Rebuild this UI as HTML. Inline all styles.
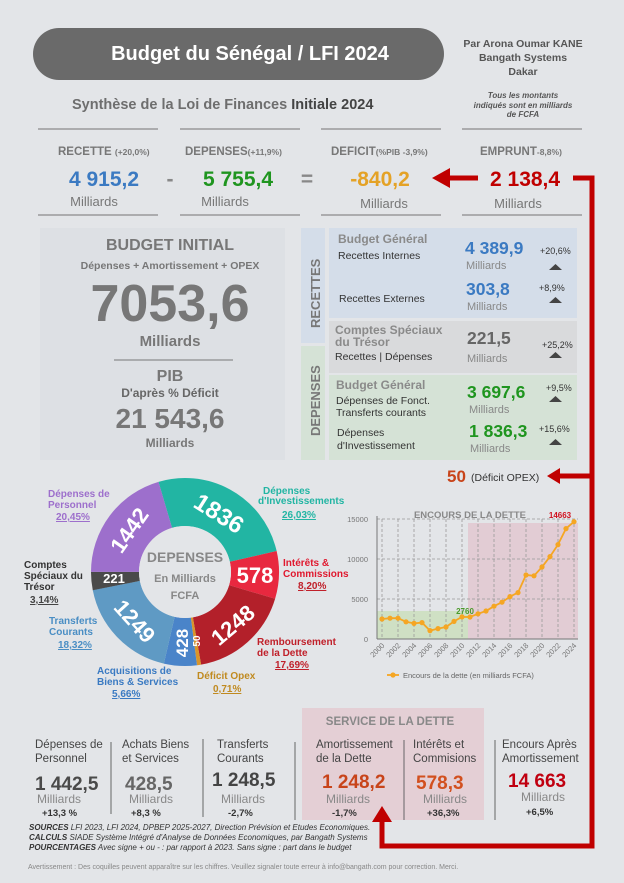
<!DOCTYPE html>
<html><head><meta charset="utf-8"><style>
html,body{margin:0;padding:0;background:#e3e5e8;}
svg{display:block;font-family:"Liberation Sans",sans-serif;}
</style></head><body>
<svg width="624" height="883" viewBox="0 0 624 883" xmlns="http://www.w3.org/2000/svg">
<rect width="624" height="883" fill="#e3e5e8"/>
<!-- header -->
<rect x="33" y="28" width="411" height="52" rx="26" fill="#6a6a6a"/>
<text x="250" y="60" text-anchor="middle" fill="#fff" font-size="20" font-weight="bold">Budget du Sénégal / LFI 2024</text>
<g fill="#555" font-size="10.5" font-weight="bold" text-anchor="middle">
<text x="523" y="47">Par Arona Oumar KANE</text>
<text x="523" y="61">Bangath Systems</text>
<text x="523" y="75">Dakar</text></g>
<g fill="#555" font-size="8" font-weight="bold" font-style="italic" text-anchor="middle">
<text x="523" y="98">Tous les montants</text>
<text x="523" y="108">indiqués sont en milliards</text>
<text x="523" y="117">de FCFA</text></g>
<text x="72" y="109" font-size="14.5" font-weight="bold" fill="#6e6e6e">Synthèse de la Loi de Finances <tspan fill="#444">Initiale 2024</tspan></text>
<!-- top row -->
<g stroke="#9a9a9a" stroke-width="1.5">
<line x1="38" y1="129" x2="158" y2="129"/><line x1="180" y1="129" x2="300" y2="129"/><line x1="321" y1="129" x2="441" y2="129"/><line x1="462" y1="129" x2="582" y2="129"/>
<line x1="38" y1="215" x2="158" y2="215"/><line x1="180" y1="215" x2="300" y2="215"/><line x1="321" y1="215" x2="441" y2="215"/><line x1="462" y1="215" x2="582" y2="215"/></g>
<g font-weight="bold" fill="#777" font-size="11.5">
<text x="58" y="155">RECETTE <tspan font-size="8.5">(+20,0%)</tspan></text>
<text x="185" y="155">DEPENSES<tspan font-size="8.5">(+11,9%)</tspan></text>
<text x="331" y="155">DEFICIT<tspan font-size="8.5">(%PIB -3,9%)</tspan></text>
<text x="480" y="155">EMPRUNT<tspan font-size="8.5">-8,8%)</tspan></text></g>
<g font-weight="bold" font-size="21" text-anchor="middle">
<text x="104" y="186" fill="#3b7ac2">4 915,2</text>
<text x="170" y="186" fill="#888">-</text>
<text x="238" y="186" fill="#1f951f">5 755,4</text>
<text x="307" y="186" fill="#888">=</text>
<text x="380" y="186" fill="#e4a226">-840,2</text></g>
<text x="490" y="186" font-weight="bold" font-size="21" fill="#c00000">2 138,4</text>
<g font-size="13" fill="#777" text-anchor="middle">
<text x="94" y="206">Milliards</text><text x="225" y="206">Milliards</text><text x="384" y="208">Milliards</text><text x="518" y="208">Milliards</text></g>
<!-- budget initial -->
<rect x="40" y="228" width="245" height="232" fill="#dde0e4"/>
<g text-anchor="middle" fill="#777" font-weight="bold">
<text x="170" y="250" font-size="16">BUDGET INITIAL</text>
<text x="170" y="269" font-size="10.5">Dépenses + Amortissement + OPEX</text>
<text x="170" y="321" font-size="52">7053,6</text>
<text x="170" y="346" font-size="15">Milliards</text>
<text x="170" y="381" font-size="16">PIB</text>
<text x="170" y="397" font-size="12" fill="#666">D'après % Déficit</text>
<text x="170" y="428" font-size="28">21 543,6</text>
<text x="170" y="447" font-size="12">Milliards</text></g>
<line x1="114" y1="360" x2="233" y2="360" stroke="#777" stroke-width="1"/>
<!-- right panel -->
<rect x="301" y="228" width="24" height="115" fill="#d4dde9"/>
<rect x="301" y="346" width="24" height="114" fill="#d5e2d6"/>
<rect x="329" y="228" width="248" height="90" fill="#d4dde9"/>
<rect x="329" y="321" width="248" height="52" fill="#d9dadc"/>
<rect x="329" y="375" width="248" height="85" fill="#d5e2d6"/>
<text transform="translate(320,328) rotate(-90)" font-size="13" font-weight="bold" fill="#777">RECETTES</text>
<text transform="translate(320,436) rotate(-90)" font-size="13" font-weight="bold" fill="#777">DEPENSES</text>
<g font-size="12" font-weight="bold" fill="#8a8a8a">
<text x="338" y="243">Budget Général</text>
<text x="335" y="334">Comptes Spéciaux</text>
<text x="335" y="346">du Trésor</text>
<text x="336" y="389">Budget Général</text></g>
<g font-size="10.5" fill="#333">
<text x="338" y="259">Recettes Internes</text>
<text x="339" y="302">Recettes Externes</text>
<text x="335" y="360">Recettes | Dépenses</text>
<text x="336" y="404">Dépenses de Fonct.</text>
<text x="336" y="416">Transferts courants</text>
<text x="337" y="436">Dépenses</text>
<text x="337" y="449">d'Investissement</text></g>
<g font-size="17.5" font-weight="bold">
<text x="465" y="254" fill="#3b7ac2">4 389,9</text>
<text x="466" y="295" fill="#3b7ac2">303,8</text>
<text x="467" y="344" fill="#666">221,5</text>
<text x="467" y="398" fill="#1f951f">3 697,6</text>
<text x="469" y="437" fill="#1f951f">1 836,3</text></g>
<g font-size="11" fill="#888">
<text x="466" y="269">Milliards</text><text x="467" y="310">Milliards</text><text x="467" y="362">Milliards</text><text x="469" y="413">Milliards</text><text x="470" y="452">Milliards</text></g>
<g font-size="9" fill="#333">
<text x="540" y="254">+20,6%</text><text x="539" y="291">+8,9%</text><text x="542" y="348">+25,2%</text><text x="546" y="391">+9,5%</text><text x="539" y="432">+15,6%</text></g>
<g fill="#444">
<polygon points="549,270 562,270 555.5,264"/><polygon points="549,303 562,303 555.5,297"/><polygon points="549,358 562,358 555.5,352"/><polygon points="549,402 562,402 555.5,396"/><polygon points="549,445 562,445 555.5,439"/></g>
<text x="447" y="482" font-size="17" font-weight="bold" fill="#c8441a">50</text>
<text x="471" y="481" font-size="10.5" fill="#333">(Déficit OPEX)</text>
<!-- donut -->
<g fill="none" stroke-width="48">
<circle cx="185" cy="572" r="70" stroke="#22b5a3" stroke-dasharray="114.24 500" transform="rotate(-106.4 185 572)"/>
<circle cx="185" cy="572" r="70" stroke="#e8283f" stroke-dasharray="35.99 500" transform="rotate(-12.9 185 572)"/>
<circle cx="185" cy="572" r="70" stroke="#b3202a" stroke-dasharray="77.65 500" transform="rotate(16.56 185 572)"/>
<circle cx="185" cy="572" r="70" stroke="#d9952a" stroke-dasharray="3.12 500" transform="rotate(80.12 185 572)"/>
<circle cx="185" cy="572" r="70" stroke="#4a84c9" stroke-dasharray="24.85 500" transform="rotate(82.67 185 572)"/>
<circle cx="185" cy="572" r="70" stroke="#5f9ac4" stroke-dasharray="80.41 500" transform="rotate(103.01 185 572)"/>
<circle cx="185" cy="572" r="70" stroke="#4a4a4a" stroke-dasharray="13.78 500" transform="rotate(168.83 185 572)"/>
<circle cx="185" cy="572" r="70" stroke="#9d6fcc" stroke-dasharray="89.76 500" transform="rotate(180.11 185 572)"/></g>
<circle cx="185" cy="572" r="46" fill="#e3e5e8"/>
<g fill="#fff" font-weight="bold" text-anchor="middle">
<text x="220" y="522" font-size="24" transform="rotate(32 220 512)">1836</text>
<text x="255" y="583" font-size="22">578</text>
<text x="232" y="633" font-size="22" transform="rotate(-40 232 624)">1248</text>
<text x="196" y="645" font-size="10" transform="rotate(-90 196 641)">50</text>
<text x="182" y="649" font-size="17" transform="rotate(-90 182 643)">428</text>
<text x="135" y="629" font-size="22" transform="rotate(48 135 621)">1249</text>
<text x="114" y="583" font-size="13">221</text>
<text x="129" y="538" font-size="22" transform="rotate(-55 129 530)">1442</text></g>
<g text-anchor="middle" font-weight="bold" fill="#888">
<text x="185" y="562" font-size="14">DEPENSES</text>
<text x="185" y="582" font-size="11">En Milliards</text>
<text x="185" y="599" font-size="11">FCFA</text></g>
<g font-size="10" font-weight="bold">
<text x="48" y="497" fill="#9d6fcc">Dépenses de</text><text x="48" y="508" fill="#9d6fcc">Personnel</text>
<text x="56" y="520" fill="#9d6fcc" text-decoration="underline">20,45%</text>
<text x="263" y="494" fill="#22b5a3">Dépenses</text><text x="258" y="504" fill="#22b5a3">d'Investissements</text>
<text x="282" y="518" fill="#22b5a3" text-decoration="underline">26,03%</text>
<text x="283" y="566" fill="#e0182e">Intérêts &amp;</text><text x="283" y="577" fill="#e0182e">Commissions</text>
<text x="298" y="589" fill="#c0202a" text-decoration="underline">8,20%</text>
<text x="24" y="568" fill="#333">Comptes</text><text x="24" y="579" fill="#333">Spéciaux du</text><text x="24" y="590" fill="#333">Trésor</text>
<text x="30" y="603" fill="#444" text-decoration="underline">3,14%</text>
<text x="49" y="624" fill="#4a8ec4">Transferts</text><text x="49" y="635" fill="#4a8ec4">Courants</text>
<text x="58" y="648" fill="#4a8ec4" text-decoration="underline">18,32%</text>
<text x="257" y="645" fill="#c0202a">Remboursement</text><text x="257" y="656" fill="#c0202a">de la Dette</text>
<text x="275" y="668" fill="#c0202a" text-decoration="underline">17,69%</text>
<text x="97" y="674" fill="#3a7ac2">Acquisitions de</text><text x="97" y="685" fill="#3a7ac2">Biens &amp; Services</text>
<text x="112" y="697" fill="#3a7ac2" text-decoration="underline">5,66%</text>
<text x="197" y="679" fill="#c08a20">Déficit Opex</text>
<text x="213" y="692" fill="#c08a20" text-decoration="underline">0,71%</text></g>
<!-- line chart -->
<rect x="377" y="611" width="91" height="28" fill="#cfe0c4"/>
<rect x="468" y="523" width="110" height="116" fill="#e2c8d0" opacity="0.85"/>
<g stroke="#999" stroke-width="0.8" stroke-dasharray="3,2">
<line x1="377" y1="519" x2="578" y2="519"/><line x1="377" y1="559" x2="578" y2="559"/><line x1="377" y1="599" x2="578" y2="599"/>
<line x1="382" y1="519" x2="382" y2="639"/><line x1="398" y1="519" x2="398" y2="639"/><line x1="414" y1="519" x2="414" y2="639"/><line x1="430" y1="519" x2="430" y2="639"/><line x1="446" y1="519" x2="446" y2="639"/><line x1="462" y1="519" x2="462" y2="639"/><line x1="478" y1="519" x2="478" y2="639"/><line x1="494" y1="519" x2="494" y2="639"/><line x1="510" y1="519" x2="510" y2="639"/><line x1="526" y1="519" x2="526" y2="639"/><line x1="542" y1="519" x2="542" y2="639"/><line x1="558" y1="519" x2="558" y2="639"/><line x1="574" y1="519" x2="574" y2="639"/></g>
<line x1="377" y1="516" x2="377" y2="639" stroke="#777" stroke-width="1"/>
<line x1="377" y1="639" x2="578" y2="639" stroke="#777" stroke-width="1"/>
<g font-size="7.5" fill="#777" text-anchor="end">
<text x="368" y="522">15000</text><text x="368" y="562">10000</text><text x="368" y="602">5000</text><text x="368" y="642">0</text></g>
<text x="470" y="518" text-anchor="middle" font-size="9.5" font-weight="bold" fill="#888">ENCOURS DE LA DETTE</text>
<text x="560" y="518" text-anchor="middle" font-size="8" font-weight="bold" fill="#d0101e">14663</text>
<text x="465" y="614" text-anchor="middle" font-size="8" font-weight="bold" fill="#4a9a2a">2760</text>
<polyline fill="none" stroke="#f5a623" stroke-width="1.8" points="382,619 390,618.2 398,618.2 406,621.8 414,623.4 422,622.6 430,630.6 438,628.6 446,627 454,621.4 462,616.9 470,617 478,613.8 486,611 494,606.2 502,602.2 510,596.6 518,592.6 526,575 534,575.8 542,567 550,556.6 558,544.6 566,528.6 574,521.7"/>
<g fill="#f5a623">
<circle cx="382" cy="619" r="2.6"/><circle cx="390" cy="618.2" r="2.6"/><circle cx="398" cy="618.2" r="2.6"/><circle cx="406" cy="621.8" r="2.6"/><circle cx="414" cy="623.4" r="2.6"/><circle cx="422" cy="622.6" r="2.6"/><circle cx="430" cy="630.6" r="2.6"/><circle cx="438" cy="628.6" r="2.6"/><circle cx="446" cy="627" r="2.6"/><circle cx="454" cy="621.4" r="2.6"/><circle cx="462" cy="616.9" r="2.6"/><circle cx="470" cy="617" r="2.6"/><circle cx="478" cy="613.8" r="2.6"/><circle cx="486" cy="611" r="2.6"/><circle cx="494" cy="606.2" r="2.6"/><circle cx="502" cy="602.2" r="2.6"/><circle cx="510" cy="596.6" r="2.6"/><circle cx="518" cy="592.6" r="2.6"/><circle cx="526" cy="575" r="2.6"/><circle cx="534" cy="575.8" r="2.6"/><circle cx="542" cy="567" r="2.6"/><circle cx="550" cy="556.6" r="2.6"/><circle cx="558" cy="544.6" r="2.6"/><circle cx="566" cy="528.6" r="2.6"/><circle cx="574" cy="521.7" r="2.6"/></g>
<g font-size="7.5" fill="#777" text-anchor="end">
<text transform="translate(385,646) rotate(-45)">2000</text><text transform="translate(401,646) rotate(-45)">2002</text><text transform="translate(417,646) rotate(-45)">2004</text><text transform="translate(433,646) rotate(-45)">2006</text><text transform="translate(449,646) rotate(-45)">2008</text><text transform="translate(465,646) rotate(-45)">2010</text><text transform="translate(481,646) rotate(-45)">2012</text><text transform="translate(497,646) rotate(-45)">2014</text><text transform="translate(513,646) rotate(-45)">2016</text><text transform="translate(529,646) rotate(-45)">2018</text><text transform="translate(545,646) rotate(-45)">2020</text><text transform="translate(561,646) rotate(-45)">2022</text><text transform="translate(577,646) rotate(-45)">2024</text></g>
<line x1="387" y1="675" x2="399" y2="675" stroke="#f5a623" stroke-width="1.8"/><circle cx="393" cy="675" r="2.6" fill="#f5a623"/>
<text x="403" y="678" font-size="7.5" fill="#666">Encours de la dette (en milliards FCFA)</text>
<!-- bottom -->
<rect x="302" y="708" width="182" height="112" fill="#e3c9cf" opacity="0.8"/>
<text x="390" y="725" text-anchor="middle" font-size="11.5" font-weight="bold" fill="#888">SERVICE DE LA DETTE</text>
<g stroke="#666" stroke-width="1">
<line x1="111" y1="742" x2="111" y2="814"/><line x1="203" y1="739" x2="203" y2="817"/><line x1="295" y1="742" x2="295" y2="820"/><line x1="404" y1="740" x2="404" y2="820"/><line x1="495" y1="740" x2="495" y2="820"/></g>
<g font-size="11.5" fill="#444">
<text x="35" y="748">Dépenses de</text><text x="35" y="762">Personnel</text>
<text x="122" y="748">Achats Biens</text><text x="122" y="762">et Services</text>
<text x="217" y="748">Transferts</text><text x="217" y="762">Courants</text>
<text x="316" y="748">Amortissement</text><text x="316" y="762">de la Dette</text>
<text x="413" y="748">Intérêts et</text><text x="413" y="762">Commisions</text>
<text x="502" y="748">Encours Après</text><text x="502" y="762">Amortissement</text></g>
<g font-size="19" font-weight="bold">
<text x="35" y="790" fill="#4a4a4a">1 442,5</text><text x="125" y="790" fill="#666">428,5</text><text x="212" y="786" fill="#444">1 248,5</text>
<text x="322" y="788" fill="#c8441a">1 248,2</text><text x="416" y="789" fill="#d2501f">578,3</text><text x="508" y="787" fill="#c00010">14 663</text></g>
<g font-size="12" fill="#888">
<text x="37" y="803">Milliards</text><text x="129" y="803">Milliards</text><text x="221" y="803">Milliards</text><text x="326" y="803">Milliards</text><text x="423" y="803">Milliards</text><text x="521" y="801">Milliards</text></g>
<g font-size="9.5" font-weight="bold" fill="#333">
<text x="42" y="816">+13,3 %</text><text x="131" y="816">+8,3 %</text><text x="228" y="816">-2,7%</text><text x="332" y="816">-1,7%</text><text x="427" y="816">+36,3%</text><text x="526" y="815">+6,5%</text></g>
<g font-size="8" font-style="italic" fill="#333">
<text x="29" y="830"><tspan font-weight="bold">SOURCES</tspan>  LFI 2023, LFI 2024, DPBEP 2025-2027, Direction Prévision et Etudes Economiques.</text>
<text x="29" y="840"><tspan font-weight="bold">CALCULS</tspan>  SIADE Système Intégré d'Analyse de Données Economiques, par Bangath Systems</text>
<text x="29" y="850"><tspan font-weight="bold">POURCENTAGES</tspan>  Avec signe + ou - : par rapport à 2023. Sans signe : part dans le budget</text></g>
<text x="28" y="869" font-size="7" fill="#888">Avertissement : Des coquilles peuvent apparaître sur les chiffres. Veuillez signaler toute erreur à info@bangath.com pour correction. Merci.</text>
<!-- red arrows (on top) -->
<g stroke="#c00000" stroke-width="5" fill="none">
<polyline points="573,178 592,178 592,846 382,846 382,822"/>
<line x1="592" y1="476" x2="558" y2="476"/>
<line x1="478" y1="178" x2="448" y2="178"/></g>
<g fill="#c00000">
<polygon points="547,476 560,468 560,484"/>
<polygon points="432,178 450,168 450,188"/>
<polygon points="382,806 372,822 392,822"/></g>
</svg>
</body></html>
